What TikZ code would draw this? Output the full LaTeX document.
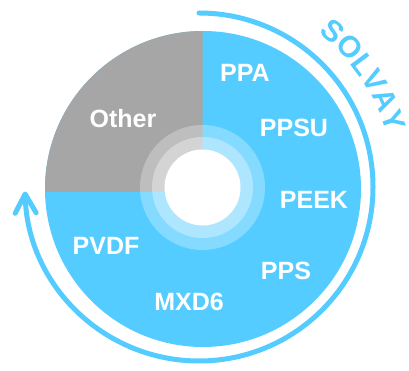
\documentclass[tikz,border=0pt]{standalone}
\usepackage{fontspec}
\setmainfont{Liberation Sans}
\usepackage{tikz}
\usetikzlibrary{arrows.meta, decorations.text}
\usepackage{xcolor}
\definecolor{sky}{HTML}{55CCFF}
\definecolor{othergray}{HTML}{A6A6A6}

\begin{document}
\begin{tikzpicture}[
    x=1pt, y=1pt,
    label/.style={text=white, font=\bfseries\fontsize{25}{25}\selectfont, inner sep=0pt},
    cycle/.style={draw=sky, line width=5pt, line cap=round, -{Straight Barb[length=19pt, width=21pt, round]}}
]
    \useasboundingbox (0,0) rectangle (409,371);

    % Centres
    \coordinate (disc) at (203,182);
    \coordinate (hub) at (202.5,183.5);
    \coordinate (loop) at (199,184);

    % Pie
    \fill[sky] (disc) circle (158pt);
    \begin{scope}
        \clip (40,179) rectangle (202.5,345);
        \fill[othergray] (disc) circle (158pt);
    \end{scope}
    \fill[white, fill opacity=0.28] (hub) circle (62.5pt);
    \fill[white, fill opacity=0.35] (hub) circle (50.5pt);
    \fill[white] (hub) circle (38pt);

    % Labels
    \node (ppa) [label] at (245,298.5) {PPA};
    \node (ppsu) [label] at (294,243) {PPSU};
    \node (peek) [label] at (314,171) {PEEK};
    \node (pps) [label] at (286,100) {PPS};
    \node (mxd) [label] at (189,69.5) {MXD6};
    \node (pvdf) [label] at (106,125) {PVDF};
    \node (other) [label] at (123,252) {Other};

    % Cycle arrow
    \draw [cycle] ([shift={(90:174pt)}]loop) arc[start angle=90, end angle=-178.5, radius=174pt];
    \path [decorate, decoration={text along path, text align=center, text color=sky,
        text={|\bfseries\fontsize{30}{30}\selectfont|SOLVAY}}]
        ([shift={(64:195pt)}]loop) arc[start angle=64, end angle=4, radius=195pt];
\end{tikzpicture}
\end{document}
